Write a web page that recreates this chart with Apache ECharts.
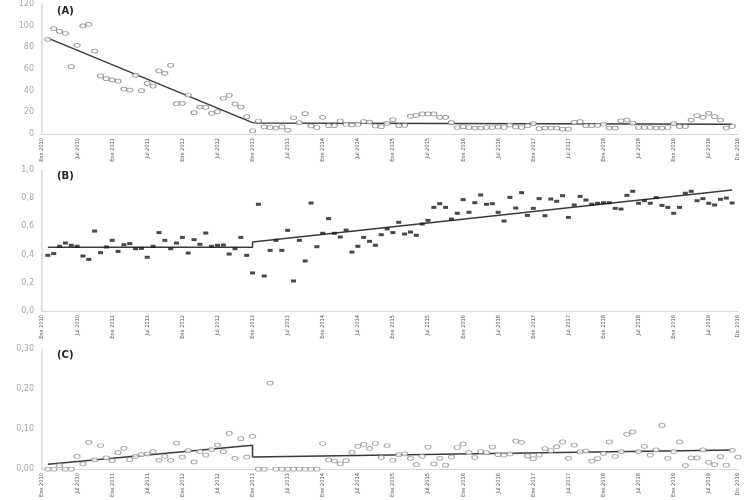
<!DOCTYPE html>
<html><head><meta charset="utf-8">
<script src="https://cdn.jsdelivr.net/npm/echarts@6/dist/echarts.min.js"></script>
<style>html,body{margin:0;padding:0;background:#fff}#c{width:750px;height:500px}</style>
</head><body><div id="c"></div><script>
// Month index 0 = Ene 2010 ... 119 = Dic 2019. Observations start at month 1.
const firstMonth = 1;
const xTickMonths = [0,6,12,18,24,30,36,42,48,54,60,66,72,78,84,90,96,102,108,114,119];
const xTickLabels = ['Ene 2010','Jul 2010','Ene 2011','Jul 2011','Ene 2012','Jul 2012','Ene 2013','Jul 2013','Ene 2014','Jul 2014','Ene 2015','Jul 2015','Ene 2016','Jul 2016','Ene 2017','Jul 2017','Ene 2018','Jul 2018','Ene 2019','Jul 2019','Dic 2019'];

const valuesA = [87.4,97.2,94.8,93,62.1,81.9,99.7,101.3,76.6,53.6,51.1,49.9,48.7,41.5,40.6,54.2,40,46.8,44.3,58.2,56,63.4,28,28.3,36,19.7,24.9,24.6,19.1,20.6,33,35.7,27.7,24.9,16,3,
12,6.5,6,5.5,6.5,3.5,15,10.5,18.7,7.5,6,15.4,7.7,7.7,12,9,8.5,9,11.5,11,7.5,6.7,9.8,13.2,7.7,8,16.5,17.1,18.5,18.5,18.5,15.4,15.4,10.4,6,6.7,6,5.5,5.5,6,6,6.5,6,8.3,6.5,6,7.7,9.5,5,5.5,5.5,5.5,4.5,4.5,10.8,11.4,7.7,7.7,8,9,5.5,5.5,12.2,12.9,10,6,6,6,5.5,5.5,6,9.5,7,7,12.9,16.9,15.4,19.1,16,12.9,5.5,7];

const valuesB = [0.395,0.407,0.459,0.482,0.466,0.459,0.39,0.366,0.567,0.414,0.454,0.501,0.423,0.47,0.478,0.442,0.444,0.381,0.459,0.556,0.501,0.442,0.482,0.522,0.411,0.506,0.473,0.553,0.459,0.466,0.468,0.404,0.442,0.522,0.395,0.27,0.757,0.248,
0.43,0.501,0.43,0.572,0.213,0.501,0.355,0.766,0.456,0.551,0.655,0.551,0.525,0.574,0.418,0.459,0.522,0.494,0.466,0.541,0.582,0.556,0.629,0.546,0.56,0.537,0.617,0.643,0.735,0.761,0.735,0.652,0.693,0.79,0.7,0.768,0.823,0.757,0.761,0.7,
0.638,0.806,0.73,0.839,0.678,0.728,0.797,0.676,0.794,0.778,0.818,0.664,0.752,0.813,0.787,0.757,0.764,0.768,0.768,0.728,0.723,0.82,0.849,0.764,0.782,0.764,0.804,0.749,0.735,0.693,0.735,0.835,0.849,0.782,0.797,0.764,0.752,0.792,0.801,0.766];

const valuesC = [0,0,0.009,0,0,0.032,0.013,0.067,0.023,0.059,0.028,0.021,0.041,0.052,0.024,0.032,0.036,0.038,0.044,0.022,0.032,0.022,0.065,0.03,0.046,0.018,0.044,0.035,0.049,0.06,0.044,0.089,0.027,0.076,0.03,0.082,
0,0,0.215,0,0,0,0,0,0,0,0,0.064,0.023,0.02,0.013,0.021,0.042,0.057,0.062,0.052,0.064,0.029,0.059,0.022,0.036,0.038,0.027,0.011,0.032,0.055,0.013,0.027,0.01,0.03,0.054,0.063,0.041,0.029,0.044,0.041,0.055,0.036,
0.035,0.038,0.07,0.067,0.033,0.026,0.035,0.051,0.046,0.056,0.068,0.027,0.06,0.043,0.045,0.02,0.026,0.039,0.068,0.032,0.044,0.087,0.093,0.044,0.057,0.035,0.048,0.109,0.027,0.044,0.068,0.009,0.028,0.028,0.048,0.017,0.011,0.031,0.01,0.047,0.03];

// Fitted segmented trend lines (month index, value)
const trendA_x = [1,36,37,118], trendA_y = [88.5,10.5,10.2,9.0];
const trendB_x = [1,36,36,118], trendB_y = [0.452,0.452,0.49,0.858];
const trendC_x = [1,36,36,118], trendC_y = [0.012,0.0595,0.030,0.0477];

const yTicksA = ['0','20','40','60','80','100','120'];
const yTicksB = ['0,0','0,2','0,4','0,6','0,8','1,0'];
const yTicksC = ['0,00','0,10','0,20','0,30'];

const pts = vals => vals.map((v,k)=>[firstMonth+k, v]);
const line = (xs, ys) => xs.map((x,k)=>[x, ys[k]]);

const grids = [
  {left:42, right:12, top:4, height:130},
  {left:42, right:12, top:170, height:141},
  {left:42, right:12, top:349, height:126.5}
];
const xAx = i => ({
  type:'value', gridIndex:i, min:0, max:119, interval:6,
  axisLine:{show:true, lineStyle:{color:'#d9d9d9', width:1}},
  axisTick:{show:false}, splitLine:{show:false},
  axisLabel:{rotate:90, fontSize:5.6, color:'#555', margin:4,
    fontFamily:'"Liberation Sans Narrow","DejaVu Sans Condensed",sans-serif',
    formatter: v => { const j = xTickMonths.indexOf(Math.round(v)); return j>=0 ? xTickLabels[j] : ''; }}
});
const yAx = (i, max, interval, ticks) => ({
  type:'value', gridIndex:i, min:0, max:max, interval:interval,
  axisLine:{show:true, lineStyle:{color:'#d9d9d9', width:1.5}},
  axisTick:{show:false}, splitLine:{show:false},
  axisLabel:{fontSize:8, color:'#a6a6a6', margin:8, fontFamily:'DejaVu Sans, sans-serif',
    formatter: v => ticks[Math.round(v/interval)] }
});

const option = {
  animation:false,
  backgroundColor:'#fff',
  grid: grids,
  xAxis:[xAx(0), xAx(1), xAx(2)],
  yAxis:[yAx(0,120,20,yTicksA), yAx(1,1,0.2,yTicksB), yAx(2,0.3,0.1,yTicksC)],
  title:[
    {text:'(A)', left:52, top:1, textStyle:{fontSize:10, fontWeight:'bold', color:'#222', fontFamily:'DejaVu Sans, sans-serif'}},
    {text:'(B)', left:52, top:166, textStyle:{fontSize:10, fontWeight:'bold', color:'#222', fontFamily:'DejaVu Sans, sans-serif'}},
    {text:'(C)', left:52, top:345, textStyle:{fontSize:10, fontWeight:'bold', color:'#222', fontFamily:'DejaVu Sans, sans-serif'}}
  ],
  series:[
    {type:'scatter', xAxisIndex:0, yAxisIndex:0, data:pts(valuesA), symbol:'circle', symbolSize:[6,4],
      itemStyle:{color:'#fff', borderColor:'#7f7f7f', borderWidth:0.9}},
    {type:'line', xAxisIndex:0, yAxisIndex:0, data:line(trendA_x,trendA_y), showSymbol:false,
      lineStyle:{color:'#3a3a3a', width:1.5}, z:1},
    {type:'scatter', xAxisIndex:1, yAxisIndex:1, data:pts(valuesB), symbol:'rect', symbolSize:[5,3],
      itemStyle:{color:'#1a1a1a'}},
    {type:'line', xAxisIndex:1, yAxisIndex:1, data:line(trendB_x,trendB_y), showSymbol:false,
      lineStyle:{color:'#3a3a3a', width:1.5}, z:1},
    {type:'scatter', xAxisIndex:2, yAxisIndex:2, data:pts(valuesC), symbol:'circle', symbolSize:[6,4],
      itemStyle:{color:'#fff', borderColor:'#8c8c8c', borderWidth:0.9}},
    {type:'line', xAxisIndex:2, yAxisIndex:2, data:line(trendC_x,trendC_y), showSymbol:false,
      lineStyle:{color:'#3a3a3a', width:1.5}, z:1}
  ]
};
echarts.init(document.getElementById('c'), null, {renderer:'canvas'}).setOption(option);
</script></body></html>
